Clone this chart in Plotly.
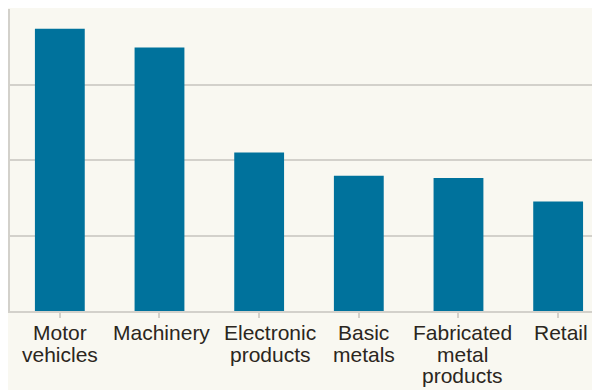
import plotly.graph_objects as go

categories = ["Motor<br>vehicles", "Machinery", "Electronic<br>products", "Basic<br>metals",
              "Fabricated<br>metal<br>products", "Retail"]
values = [18.7, 17.45, 10.5, 8.95, 8.8, 7.25]

BG = "#f9f8f1"
BAR = "#00729c"
GRID = "#d3d1cb"
TXT = "#2b2620"

# small horizontal nudges of the category labels (layout style)
label_nudge = [0, 2, 11, 5, 4, 3]

xs = list(range(len(categories)))
fig = go.Figure(go.Bar(x=xs, y=values, marker_color=BAR,
                       marker_line_width=0, width=0.5))

# category labels as annotations (tight line spacing like reference)
for i, lab in enumerate(categories):
    for j, line in enumerate(lab.split("<br>")):
        fig.add_annotation(x=i, xref="x", y=0, yref="paper", yanchor="top",
                           xshift=label_nudge[i],
                           yshift=-(8 + j * 21.5), text=line, showarrow=False,
                           font=dict(family="Liberation Sans, Arial", size=21, color=TXT))

fig.update_layout(
    width=592, height=382,
    margin=dict(l=2, r=0, t=1, b=79),
    paper_bgcolor=BG, plot_bgcolor=BG,
    showlegend=False,
    font=dict(family="Liberation Sans, Arial", size=21, color=TXT),
)
fig.update_xaxes(
    tickmode="array", tickvals=xs, ticktext=[""] * len(xs),
    range=[-0.5, 5.42],
    showline=True, linecolor=GRID, linewidth=2,
    showgrid=False,
    ticks="outside", ticklen=5, tickcolor=GRID, tickwidth=2,
    tickson="boundaries",
)
fig.update_yaxes(
    range=[0, 20], dtick=5, showticklabels=False,
    showgrid=True, gridcolor=GRID, gridwidth=2,
    showline=True, linecolor=GRID, linewidth=2,
    zeroline=False,
)

fig.write_html("out.html")
